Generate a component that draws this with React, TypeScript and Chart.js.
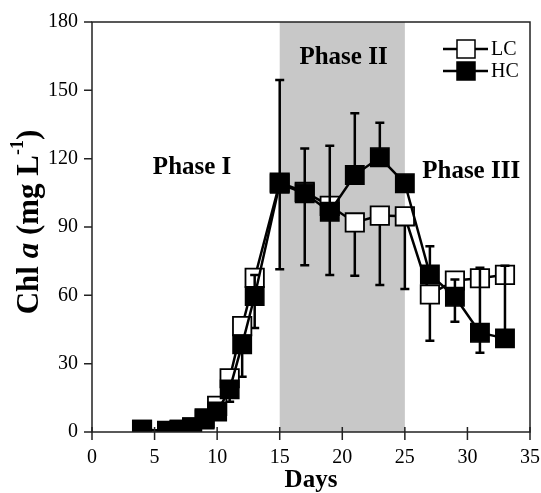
import React, { useEffect, useRef } from 'react';
import { Chart, registerables } from 'chart.js';

Chart.register(...registerables);

// ---- data ----
const days = [4, 6, 7, 8, 9, 10, 11, 12, 13, 15, 17, 19, 21, 23, 25, 27, 29, 31, 33];
const lcValues = [1, 0.5, 1, 2, 6, 11.5, 23.6, 46.5, 67.7, 109.5, 105.4, 99.3, 92, 95, 94.7, 60.4, 66.5, 67.5, 69];
const hcValues = [1, 0.5, 1, 2, 5.5, 9, 18.7, 38.5, 59.7, 109, 104.8, 96.7, 112.8, 120.6, 109.2, 69.2, 59.4, 43.6, 41.1];
const lcErrUp = [0, 0, 0, 0, 0, 0, 0, 0, 0, 0, 0, 0, 0, 0, 0, 0, 0, 0, 0];
const lcErrDown = [0, 0, 0, 0, 0, 0, 10.3, 22.2, 22, 38.1, 32.2, 30.4, 23.4, 30.5, 31.9, 20.3, 0, 0, 0];
const hcErrUp = [0, 0, 0, 0, 0, 0, 0, 0, 9.2, 45.5, 19.7, 29, 27.1, 15.2, 0, 12.4, 7.6, 28.5, 31.9];
const hcErrDown = [0, 0, 0, 0, 0, 0, 0, 0, 0, 0, 0, 0, 0, 0, 0, 0, 11, 8.8, 0];
const seriesNames = ['LC', 'HC'];
const xMin = 0, xMax = 35, xStep = 5;
const yMin = 0, yMax = 180, yStep = 30;
const phaseBand = [15, 25];
const phaseLabels = ['Phase I', 'Phase II', 'Phase III'];
const phaseLabelX = [8.0, 20.1, 30.3];
const phaseLabelY = [116.3, 164.6, 114.4];
const xTitle = 'Days';

const SERIF = '"Liberation Serif", "Times New Roman", Times, serif';

const errMap: Record<string, { up: number[]; down: number[] }> = {
  LC: { up: lcErrUp, down: lcErrDown },
  HC: { up: hcErrUp, down: hcErrDown },
};

const bandPlugin = {
  id: 'band',
  beforeDatasetsDraw(chart: any) {
    const { ctx, chartArea } = chart;
    const x = chart.scales.x;
    const x0 = x.getPixelForValue(phaseBand[0]);
    const x1 = x.getPixelForValue(phaseBand[1]);
    ctx.save();
    ctx.fillStyle = '#c8c8c8';
    ctx.fillRect(x0, chartArea.top, x1 - x0, chartArea.bottom - chartArea.top);
    ctx.restore();
  },
};

const errorPlugin = {
  id: 'errbars',
  beforeDatasetDraw(chart: any, args: any) {
    const ds = chart.data.datasets[args.index];
    const e = errMap[ds.label];
    if (!e) return;
    const { ctx } = chart;
    const y = chart.scales.y;
    ctx.save();
    ctx.strokeStyle = '#000';
    ctx.lineWidth = 2.5;
    const cap = 4.5;
    args.meta.data.forEach((pt: any, i: number) => {
      const v = ds.data[i].y;
      const ends: number[] = [];
      if (e.up[i] > 0) ends.push(y.getPixelForValue(v + e.up[i]));
      if (e.down[i] > 0) ends.push(y.getPixelForValue(v - e.down[i]));
      ends.forEach((ye) => {
        ctx.beginPath();
        ctx.moveTo(pt.x, pt.y);
        ctx.lineTo(pt.x, ye);
        ctx.moveTo(pt.x - cap, ye);
        ctx.lineTo(pt.x + cap, ye);
        ctx.stroke();
      });
    });
    ctx.restore();
  },
};

const decorPlugin = {
  id: 'decor',
  afterDraw(chart: any) {
    const { ctx, chartArea } = chart;
    const xs = chart.scales.x;
    const ys = chart.scales.y;
    const { left, right, top, bottom } = chartArea;
    ctx.save();
    // frame
    ctx.strokeStyle = '#222';
    ctx.lineWidth = 1.5;
    ctx.strokeRect(left, top, right - left, bottom - top);
    // y ticks (outward)
    ctx.beginPath();
    for (let v = yMin; v <= yMax; v += yStep) {
      const p = ys.getPixelForValue(v);
      ctx.moveTo(left - 8, p);
      ctx.lineTo(left, p);
    }
    // x ticks (crossing)
    for (let v = xMin; v <= xMax; v += xStep) {
      const p = xs.getPixelForValue(v);
      ctx.moveTo(p, bottom - 5);
      ctx.lineTo(p, bottom + 8);
    }
    ctx.stroke();

    // phase labels
    ctx.fillStyle = '#000';
    ctx.font = `bold 25px ${SERIF}`;
    ctx.textAlign = 'center';
    ctx.textBaseline = 'middle';
    phaseLabels.forEach((t, i) => {
      ctx.fillText(t, xs.getPixelForValue(phaseLabelX[i]), ys.getPixelForValue(phaseLabelY[i]));
    });

    // legend
    const lx0 = right - 87;
    const lx1 = right - 42;
    const sq = 18;
    const sx = right - 64;
    seriesNames.forEach((name, i) => {
      const ly = top + 27 + i * 22;
      ctx.strokeStyle = '#000';
      ctx.lineWidth = 2.5;
      ctx.beginPath();
      ctx.moveTo(lx0, ly);
      ctx.lineTo(lx1, ly);
      ctx.stroke();
      ctx.fillStyle = name === 'LC' ? '#fff' : '#000';
      ctx.fillRect(sx - sq / 2, ly - sq / 2, sq, sq);
      ctx.lineWidth = 1.5;
      ctx.strokeRect(sx - sq / 2, ly - sq / 2, sq, sq);
      ctx.fillStyle = '#000';
      ctx.font = `20px ${SERIF}`;
      ctx.textAlign = 'left';
      ctx.textBaseline = 'middle';
      ctx.fillText(name, lx1 + 3, ly + 1);
    });

    // y title with mixed styles
    const parts = [
      { t: 'Chl ', f: `bold 31px ${SERIF}`, dy: 0 },
      { t: 'a', f: `italic bold 31px ${SERIF}`, dy: 0 },
      { t: ' (mg L', f: `bold 31px ${SERIF}`, dy: 0 },
      { t: '-1', f: `bold 18px ${SERIF}`, dy: -12 },
      { t: ')', f: `bold 31px ${SERIF}`, dy: 0 },
    ];
    let total = 0;
    parts.forEach((p) => {
      ctx.font = p.f;
      total += ctx.measureText(p.t).width;
    });
    ctx.translate(28, (top + bottom) / 2 - 5);
    ctx.rotate(-Math.PI / 2);
    ctx.textAlign = 'left';
    ctx.textBaseline = 'middle';
    let cx = -total / 2;
    parts.forEach((p) => {
      ctx.font = p.f;
      ctx.fillText(p.t, cx, p.dy + 2);
      cx += ctx.measureText(p.t).width;
    });
    ctx.restore();
  },
};

const zeroPad = (s: any) => {
  s.paddingLeft = 0;
  s.paddingRight = 0;
  s.paddingTop = 0;
  s.paddingBottom = 0;
};

function App() {
  const ref = useRef<HTMLCanvasElement | null>(null);
  useEffect(() => {
    if (!ref.current) return;
    const mk = (vals: number[]) => days.map((d, i) => ({ x: d, y: vals[i] }));
    const chart = new Chart(ref.current, {
      type: 'line',
      data: {
        datasets: [
          {
            label: 'HC',
            data: mk(hcValues),
            borderColor: '#000',
            borderWidth: 2.5,
            backgroundColor: '#000',
            pointStyle: 'rect',
            pointRadius: 13,
            pointBorderWidth: 1.5,
            pointBorderColor: '#000',
            pointBackgroundColor: '#000',
            tension: 0,
          },
          {
            label: 'LC',
            data: mk(lcValues),
            borderColor: '#000',
            borderWidth: 2.5,
            backgroundColor: '#fff',
            pointStyle: 'rect',
            pointRadius: 13,
            pointBorderWidth: 1.8,
            pointBorderColor: '#000',
            pointBackgroundColor: '#fff',
            tension: 0,
          },
        ],
      },
      options: {
        responsive: false,
        animation: false,
        devicePixelRatio: 1,
        layout: { autoPadding: false, padding: { top: 22, right: 11, left: 0, bottom: 0 } },
        plugins: { legend: { display: false }, tooltip: { enabled: false } },
        scales: {
          x: {
            type: 'linear',
            min: xMin,
            max: xMax,
            grid: { display: false, drawTicks: false },
            border: { display: false },
            ticks: { stepSize: xStep, padding: 14, color: '#000', font: { family: SERIF, size: 20 } },
            title: { display: true, text: xTitle, color: '#000', font: { family: SERIF, size: 25, weight: 'bold', lineHeight: 1.0 }, padding: { top: 0, bottom: 0 } },
            afterFit: (s: any) => { s.height = 61; zeroPad(s); },
          },
          y: {
            type: 'linear',
            min: yMin,
            max: yMax,
            grid: { display: false, drawTicks: false },
            border: { display: false },
            ticks: { stepSize: yStep, padding: 14, color: '#000', font: { family: SERIF, size: 20 } },
            afterFit: (s: any) => { s.width = 92; zeroPad(s); },
          },
        },
      } as any,
      plugins: [bandPlugin, errorPlugin, decorPlugin],
    });
    return () => chart.destroy();
  }, []);
  return (
    <div style={{ position: 'fixed', left: 0, top: 0, width: 541, height: 493, background: '#fff' }}>
      <canvas ref={ref} width={541} height={493} />
    </div>
  );
}

export default App;
